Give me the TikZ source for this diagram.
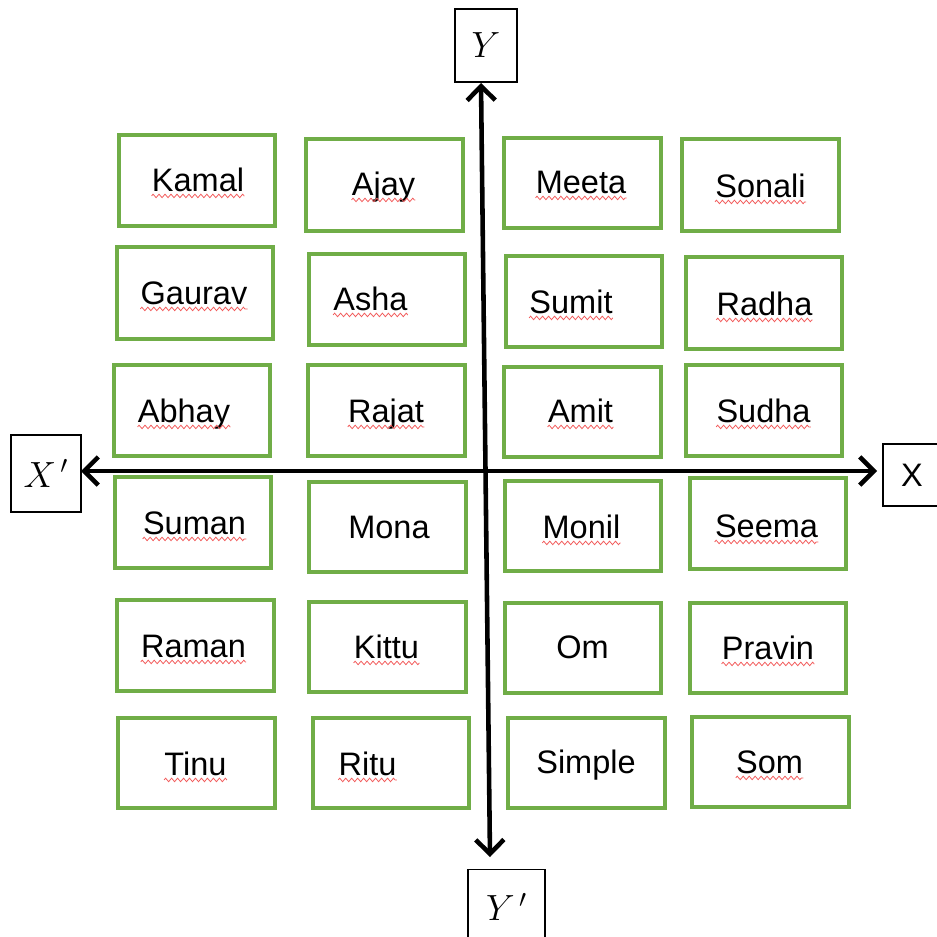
\documentclass[tikz,border=0pt]{standalone}
\usepackage{fontspec}
\setmainfont{Liberation Sans}
\usetikzlibrary{arrows.meta,decorations.pathmorphing}
\definecolor{boxgreen}{HTML}{70AD47}
\definecolor{typored}{HTML}{F25C5C}

\tikzset{
  namebox/.style={draw=boxgreen, line width=2.2pt},
  person/.style={inner sep=0pt, anchor=base, font=\fontsize{18.5}{22}\selectfont},
  axislabel/.style={draw, line width=1pt, inner sep=0pt},
  axisline/.style={line width=2.6pt, {Straight Barb[length=8pt,width=16pt]}-{Straight Barb[length=8pt,width=16pt]}},
  squiggle/.style={typored, line width=0.45pt, decorate,
    decoration={zigzag, amplitude=1pt, segment length=3.4pt}}
}
% red wavy mark under a name
\newcommand{\typo}[1]{\draw[squiggle] ([yshift=-2.8pt]#1.base west) -- ([yshift=-2.8pt]#1.base east);}

\begin{document}
\begin{tikzpicture}[x=0.02cm, y=-0.02cm]
\useasboundingbox (0,0) rectangle (937,937);

% Boxes of the first row
\draw[namebox] (119,135) rectangle (275,226);
\draw[namebox] (306,139) rectangle (463,231);
\draw[namebox] (504,138) rectangle (661,228);
\draw[namebox] (682,139) rectangle (839,231);
% second row
\draw[namebox] (117,247) rectangle (273,339);
\draw[namebox] (309,254) rectangle (465,345);
\draw[namebox] (506,256) rectangle (662,347);
\draw[namebox] (686,257) rectangle (842,349);
% third row
\draw[namebox] (114,365) rectangle (270,456);
\draw[namebox] (308,365) rectangle (465,456);
\draw[namebox] (504,367) rectangle (661,457);
\draw[namebox] (686,365) rectangle (842,456);
% fourth row
\draw[namebox] (115,477) rectangle (271,568);
\draw[namebox] (309,482) rectangle (466,572);
\draw[namebox] (505,481) rectangle (661,571);
\draw[namebox] (690,478) rectangle (846,569);
% fifth row
\draw[namebox] (117,600) rectangle (274,691);
\draw[namebox] (309,602) rectangle (466,692);
\draw[namebox] (505,603) rectangle (661,693);
\draw[namebox] (690,603) rectangle (846,693);
% sixth row
\draw[namebox] (118,718) rectangle (275,808);
\draw[namebox] (313,718) rectangle (469,808);
\draw[namebox] (508,718) rectangle (665,808);
\draw[namebox] (692,717) rectangle (849,807);

% Names
\node[person] (kamal)  at (198,191)   {Kamal};
\node[person] (ajay)   at (383.5,195) {Ajay};
\node[person] (meeta)  at (581,193)   {Meeta};
\node[person] (sonali) at (760.5,197) {Sonali};
\node[person] (gaurav) at (194,304)   {Gaurav};
\node[person] (asha)   at (370.5,310) {Asha};
\node[person] (sumit)  at (571,313)   {Sumit};
\node[person] (radha)  at (764.5,315) {Radha};
\node[person] (abhay)  at (184,422)   {Abhay};
\node[person] (rajat)  at (386,422)   {Rajat};
\node[person] (amit)   at (580.5,422) {Amit};
\node[person] (sudha)  at (763.5,422) {Sudha};
\node[person] (suman)  at (194.5,534) {Suman};
\node[person] (mona)   at (389,538)   {Mona};
\node[person] (monil)  at (581.5,538) {Monil};
\node[person] (seema)  at (766.5,537) {Seema};
\node[person] (raman)  at (193.5,657) {Raman};
\node[person] (kittu)  at (386.5,658) {Kittu};
\node[person] (om)     at (582.5,658) {Om};
\node[person] (pravin) at (768,659)   {Pravin};
\node[person] (tinu)   at (195.5,775) {Tinu};
\node[person] (ritu)   at (367.5,775) {Ritu};
\node[person] (simple) at (586,773)   {Simple};
\node[person] (som)    at (769.5,773) {Som};

% Spell check marks
\typo{kamal} \typo{ajay} \typo{meeta} \typo{sonali}
\typo{gaurav} \typo{asha} \typo{sumit} \typo{radha}
\typo{abhay} \typo{rajat} \typo{amit} \typo{sudha}
\typo{suman} \typo{monil} \typo{seema}
\typo{raman} \typo{kittu} \typo{pravin}
\typo{tinu} \typo{ritu} \typo{som}

% Axis labels
\node[axislabel, minimum width=1.24cm, minimum height=1.46cm] (ypos) at (486,45.5)
  {\fontsize{20}{24}\selectfont $Y$};
\node[axislabel, minimum width=1.54cm, minimum height=1.50cm] (yneg) at (506.5,907)
  {\fontsize{20}{24}\selectfont $Y^{\,\prime}$};
\node[axislabel, minimum width=1.40cm, minimum height=1.54cm] (xneg) at (46,473.5)
  {\fontsize{20}{24}\selectfont $X^{\,\prime}$};
\node[axislabel, minimum width=1.16cm, minimum height=1.24cm] (xpos) at (912,475)
  {\fontsize{18.5}{22}\selectfont X};

% Axes
\coordinate (ytop) at (481,83);
\coordinate (ybot) at (490,857);
\coordinate (xleft) at (81,471);
\coordinate (xright) at (877,471);
\draw[axisline] (ybot) -- (ytop);
\draw[axisline] (xleft) -- (xright);
\end{tikzpicture}
\end{document}
